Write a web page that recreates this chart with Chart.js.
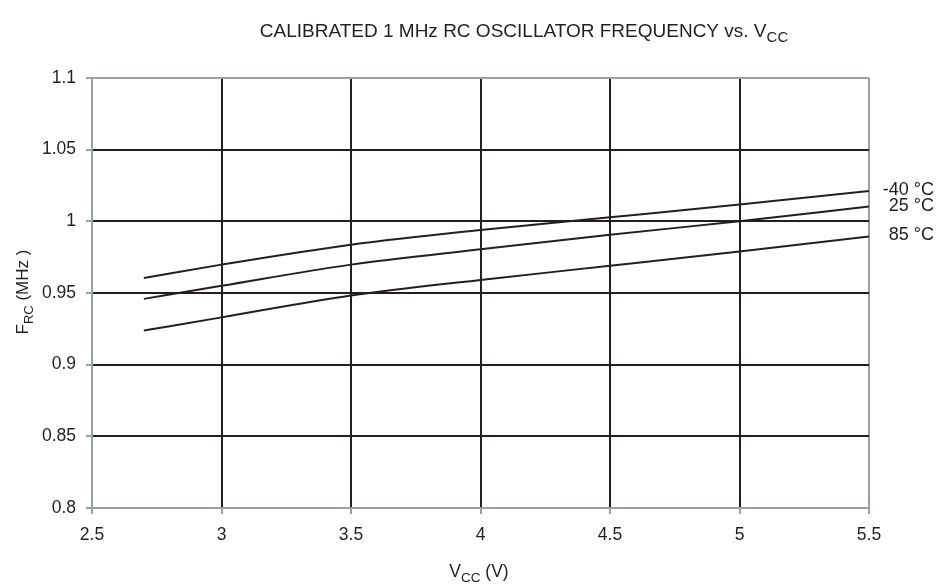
<!DOCTYPE html>
<html>
<head>
<meta charset="utf-8">
<script src="https://cdn.jsdelivr.net/npm/chart.js@4/dist/chart.umd.min.js"></script>
<style>
    html, body { margin: 0; padding: 0; background: #fff; }
    #wrap { width: 949px; height: 588px; }
</style>
</head>
<body>
<div id="wrap"><canvas id="osc_chart" width="949" height="588"></canvas></div>
<script>
// supply voltage points (V)
const vcc = [2.7, 3, 3.5, 4, 4.5, 5, 5.5];
// frequency per temperature (MHz)
const f_m40 = [0.9605, 0.9698, 0.9837, 0.994, 1.0028, 1.0117, 1.0212];
const f_25 = [0.9459, 0.955, 0.9698, 0.9805, 0.9907, 1.0, 1.0103];
const f_85 = [0.9238, 0.933, 0.9482, 0.9591, 0.969, 0.979, 0.9895];
const series_labels = ['-40 °C', '25 °C', '85 °C'];
const x_ticks = ['2.5', '3', '3.5', '4', '4.5', '5', '5.5'];
const y_ticks = ['0.8', '0.85', '0.9', '0.95', '1', '1.05', '1.1'];

const font_family = '"Liberation Sans", Arial, sans-serif';
const frame_color = '#9aa0a6';
const grid_color = '#231f20';

function toPoints(arr){
    return arr.map((v, i) => ({x: vcc[i], y: v}));
}

// draws title, axis titles (with subscripts) and the curve labels
const textPlugin = {
    id: 'textPlugin',
    afterDraw(chart){
        const ctx = chart.ctx;
        ctx.save();
        ctx.fillStyle = '#231f20';
        ctx.textBaseline = 'alphabetic';

        function subText(parts, x, y, size, align){
            // parts: [[text, isSub], ...]
            let w = 0;
            parts.forEach(p => {
                ctx.font = (p[1] ? size - 4 : size) + 'px ' + font_family;
                w += ctx.measureText(p[0]).width;
            });
            let cx = align == 'center' ? x - w / 2 : x;
            parts.forEach(p => {
                ctx.font = (p[1] ? size - 4 : size) + 'px ' + font_family;
                ctx.fillText(p[0], cx, p[1] ? y + 5 : y);
                cx += ctx.measureText(p[0]).width;
            });
        }

        ctx.textAlign = 'left';
        subText([['CALIBRATED 1 MHz RC OSCILLATOR FREQUENCY vs. V', false], ['CC', true]], 524, 37, 19, 'center');
        subText([['V', false], ['CC', true], [' (V)', false]], 479, 577, 17.5, 'center');

        ctx.save();
        ctx.translate(28, 292);
        ctx.rotate(-Math.PI / 2);
        subText([['F', false], ['RC', true], [' (MHz )', false]], 0, 0, 17, 'center');
        ctx.restore();

        // curve labels at the right end
        const y = chart.scales.y;
        const last = [f_m40, f_25, f_85].map(a => a[a.length - 1]);
        ctx.font = '18px ' + font_family;
        ctx.textAlign = 'right';
        ctx.textBaseline = 'middle';
        last.forEach((v, i) => {
            ctx.fillText(series_labels[i], 934, y.getPixelForValue(v) - 1);
        });
        ctx.restore();
    }
};

const line_style = {
    fill: false,
    borderColor: '#231f20',
    borderWidth: 2,
    pointRadius: 0,
    cubicInterpolationMode: 'monotone'
};

var ctx = document.getElementById('osc_chart').getContext('2d');
var osc_chart = new Chart(ctx, {
    type: 'line',
    data: {
        datasets: [
            Object.assign({label: series_labels[0], data: toPoints(f_m40)}, line_style),
            Object.assign({label: series_labels[1], data: toPoints(f_25)}, line_style),
            Object.assign({label: series_labels[2], data: toPoints(f_85)}, line_style)
        ]
    },
    options: {
        responsive: false,
        animation: false,
        layout: { padding: { left: 0, top: 78, right: 80, bottom: 0 } },
        plugins: {
            legend: { display: false },
            title: { display: false },
            tooltip: { enabled: false }
        },
        scales: {
            x: {
                type: 'linear',
                min: 2.5,
                max: 5.5,
                afterFit: function(s){ s.height = 80; },
                afterBuildTicks: function(s){
                    s.ticks = x_ticks.map(t => ({value: parseFloat(t)}));
                },
                ticks: {
                    padding: 11,
                    color: '#231f20',
                    font: { family: font_family, size: 17.5 },
                    callback: (v, i) => x_ticks[i]
                },
                grid: {
                    color: c => (c.index == 0 || c.index == x_ticks.length - 1) ? frame_color : grid_color,
                    lineWidth: 2,
                    tickLength: 6,
                    tickColor: frame_color
                },
                border: { display: true, color: frame_color, width: 2 }
            },
            y: {
                type: 'linear',
                min: 0.8,
                max: 1.1,
                afterFit: function(s){ s.width = 92; },
                afterBuildTicks: function(s){
                    s.ticks = y_ticks.map(t => ({value: parseFloat(t)}));
                },
                ticks: {
                    padding: 10,
                    color: '#231f20',
                    font: { family: font_family, size: 17.5 },
                    callback: (v, i) => y_ticks[i]
                },
                grid: {
                    color: c => (c.index == 0 || c.index == y_ticks.length - 1) ? frame_color : grid_color,
                    lineWidth: 2,
                    tickLength: 6,
                    tickColor: frame_color
                },
                border: { display: true, color: frame_color, width: 2 }
            }
        }
    },
    plugins: [textPlugin]
});
</script>
</body>
</html>
